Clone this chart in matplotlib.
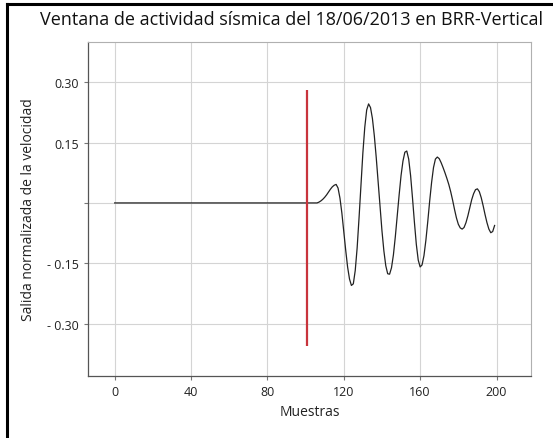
import numpy as np
import matplotlib
matplotlib.use("Agg")
import matplotlib.pyplot as plt
from matplotlib.lines import Line2D

plt.rcParams['font.family'] = ['Open Sans', 'DejaVu Sans']

# Signal: flat until ~106, then the arrival
n_flat = 107
wave = [
    0.002, 0.005, 0.009, 0.014, 0.020, 0.027, 0.034, 0.040, 0.044, 0.046,   # 107-116
    0.037, 0.012, -0.025, -0.071, -0.117, -0.159, -0.189, -0.205,           # 117-124
    -0.201, -0.168, -0.112, -0.037, 0.045, 0.124, 0.188, 0.231, 0.246,      # 125-133
    0.237, 0.210, 0.167, 0.113, 0.052, -0.010, -0.069, -0.119, -0.156, -0.176,  # 134-143
    -0.177, -0.161, -0.129, -0.084, -0.032, 0.020, 0.068, 0.104, 0.126,     # 144-152
    0.129, 0.109, 0.068, 0.012, -0.048, -0.103, -0.142, -0.159,             # 153-160
    -0.154, -0.131, -0.093, -0.046, 0.005, 0.051, 0.088, 0.109,             # 161-168
    0.114, 0.110, 0.100, 0.088, 0.075, 0.061, 0.046, 0.028, 0.007, -0.016,  # 169-178
    -0.037, -0.053, -0.062, -0.065,                                          # 179-182
    -0.061, -0.049, -0.032, -0.012, 0.008, 0.023, 0.033,                     # 183-189
    0.035, 0.028, 0.013, -0.007, -0.029, -0.049, -0.065, -0.074, -0.071, -0.056,  # 190-199
]
signal = np.concatenate([np.zeros(n_flat), wave])
samples = np.arange(len(signal))

# red marker (trigger)
marker_x = 101
marker_ymin, marker_ymax = -0.355, 0.28

xticks = [0, 40, 80, 120, 160, 200]
yticks = [-0.30, -0.15, 0.0, 0.15, 0.30]
ytick_labels = ['- 0.30', '- 0.15', '', '0.15', '0.30']

fig = plt.figure(figsize=(5.53, 4.39), dpi=100)
ax = fig.add_axes([0.159, 0.1412, 0.801, 0.761])

ax.plot(samples, signal, color='#222222', lw=0.9, zorder=3)
ax.vlines(marker_x, marker_ymin, marker_ymax, color='#c8343c', lw=1.6, zorder=4)

ax.set_xlim(-14, 218)
ax.set_ylim(-0.43, 0.40)
ax.set_xticks(xticks)
ax.set_yticks(yticks)
ax.set_yticklabels(ytick_labels)
ax.grid(True, color='#d4d4d4', lw=0.8)
ax.set_axisbelow(True)

ax.tick_params(length=3, width=0.8, color='#777777', labelsize=9, labelcolor='#222222')
for side in ['left', 'bottom']:
    ax.spines[side].set_color('#555555')
    ax.spines[side].set_linewidth(0.9)
for side in ['top', 'right']:
    ax.spines[side].set_color('#b0b0b0')
    ax.spines[side].set_linewidth(0.8)

ax.set_xlabel('Muestras', fontsize=10, color='#222222', labelpad=4)
ax.set_ylabel('Salida normalizada de la velocidad', fontsize=10, color='#222222', labelpad=8)

fig.text(291 / 553, 1 - 20 / 439, 'Ventana de actividad sísmica del 18/06/2013 en BRR-Vertical',
         ha='center', va='center', fontsize=13, color='#111111')

# frame around the picture (top and left edges visible)
fig.add_artist(Line2D([7 / 553, 1.0], [1 - 5 / 439, 1 - 5 / 439], color='black', lw=2.2))
fig.add_artist(Line2D([7 / 553, 7 / 553], [0.0, 1 - 5 / 439], color='black', lw=2.2))

fig.savefig('out.png', dpi=100)
